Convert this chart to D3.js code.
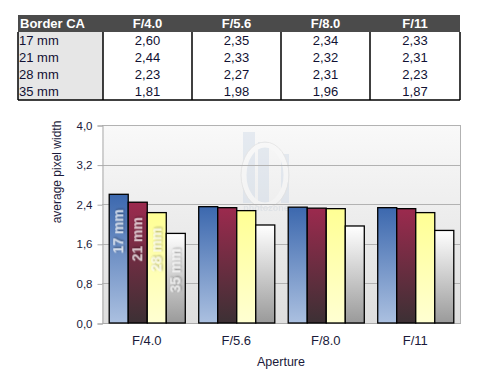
<!DOCTYPE html>
<html>
<head>
<meta charset="utf-8">
<script src="https://cdn.jsdelivr.net/npm/d3@7"></script>
<style>
  body { margin: 0; background: #fff; }
  text { font-family: "Liberation Sans", Arial, sans-serif; }
</style>
</head>
<body>
<div id="chart"></div>
<script>
const apertures = ["F/4.0", "F/5.6", "F/8.0", "F/11"];
const focals = ["17 mm", "21 mm", "28 mm", "35 mm"];
const values17 = [2.60, 2.35, 2.34, 2.33];
const values21 = [2.44, 2.33, 2.32, 2.31];
const values28 = [2.23, 2.27, 2.31, 2.23];
const values35 = [1.81, 1.98, 1.96, 1.87];
const yTicks = [0, 0.8, 1.6, 2.4, 3.2, 4.0];

const series = [values17, values21, values28, values35];
const fmt = v => d3.format(".2f")(v).replace(".", ",");
const fmt1 = v => d3.format(".1f")(v).replace(".", ",");

const W = 494, H = 372;
const svg = d3.select("#chart").append("svg")
  .attr("width", W).attr("height", H);

const defs = svg.append("defs");
const grads = [
  ["g17", "#3c68ae", "#abc0e0"],
  ["g21", "#9c2a4e", "#3c3034"],
  ["g28", "#ffff94", "#ffffd2"],
  ["g35", "#ffffff", "#9a9a9a"],
  ["gbg", "#f9f9f9", "#dedede"]
];
grads.forEach(([id, c0, c1]) => {
  const g = defs.append("linearGradient").attr("id", id)
    .attr("x1", 0).attr("y1", 0).attr("x2", 0).attr("y2", 1);
  g.append("stop").attr("offset", "0%").attr("stop-color", c0);
  g.append("stop").attr("offset", "100%").attr("stop-color", c1);
});
const shadow = defs.append("filter").attr("id", "shadow")
  .attr("x", "-30%").attr("y", "-30%").attr("width", "160%").attr("height", "160%");
shadow.append("feDropShadow").attr("dx", 1).attr("dy", 1)
  .attr("stdDeviation", 1).attr("flood-color", "#000").attr("flood-opacity", 0.6);

// ---- table ----
const tx = d3.scaleOrdinal().domain(["label", ...apertures])
  .range([18, 103, 192, 281, 370]);
const colW = [85, 89, 89, 89, 90];
const headerTop = 15, headerH = 17;
const ty = d3.scaleBand().domain(focals).range([32, 100]);

const table = svg.append("g");
table.append("rect").attr("x", 18).attr("y", headerTop)
  .attr("width", 442).attr("height", headerH).attr("fill", "#4b4b4b");
table.append("rect").attr("x", 18).attr("y", 32)
  .attr("width", 85).attr("height", 68).attr("fill", "#e6e6e6");
table.append("text").attr("x", 20).attr("y", headerTop + 13)
  .attr("fill", "#fff").attr("font-weight", "bold").attr("font-size", 13)
  .text("Border CA");
table.selectAll(".hdr").data(apertures).enter().append("text")
  .attr("x", (d, i) => tx(d) + colW[i + 1] / 2)
  .attr("y", headerTop + 13)
  .attr("text-anchor", "middle")
  .attr("fill", "#fff").attr("font-weight", "bold").attr("font-size", 13)
  .text(d => d);
table.selectAll(".rowlab").data(focals).enter().append("text")
  .attr("x", 19).attr("y", d => ty(d) + 13)
  .attr("fill", "#111133").attr("font-size", 13)
  .text(d => d);
series.forEach((vals, r) => {
  table.selectAll(".cell" + r).data(vals).enter().append("text")
    .attr("x", (d, i) => tx(apertures[i]) + colW[i + 1] / 2)
    .attr("y", ty(focals[r]) + 13)
    .attr("text-anchor", "middle")
    .attr("fill", "#111133").attr("font-size", 13)
    .text(d => fmt(d));
});
// borders
table.selectAll(".vline").data([18, 103, 192, 281, 370, 460]).enter().append("line")
  .attr("x1", d => d).attr("x2", d => d)
  .attr("y1", 32).attr("y2", 100)
  .attr("stroke", "#000").attr("stroke-width", 1.5);
table.append("line").attr("x1", 18).attr("x2", 460)
  .attr("y1", 100).attr("y2", 100)
  .attr("stroke", "#000").attr("stroke-width", 1.5);

// ---- chart ----
const plot = { left: 102, right: 460, top: 125, bottom: 323 };
const x = d3.scaleBand().domain(apertures).range([plot.left, plot.right]).paddingInner(0.15).paddingOuter(0.075);
const xs = d3.scaleBand().domain(focals).range([0, x.bandwidth()]);
const y = d3.scaleLinear().domain([0, 4]).range([plot.bottom, plot.top]);

svg.append("rect").attr("x", plot.left).attr("y", plot.top)
  .attr("width", plot.right - plot.left).attr("height", plot.bottom - plot.top)
  .attr("fill", "url(#gbg)");

// watermark
const wm = svg.append("g").attr("opacity", 0.4);
wm.append("rect").attr("x", 243).attr("y", 132).attr("width", 12).attr("height", 71).attr("fill", "#c9d6e6");
wm.append("rect").attr("x", 258).attr("y", 142).attr("width", 11).attr("height", 61).attr("fill", "#c9d6e6");
wm.append("rect").attr("x", 281).attr("y", 154).attr("width", 8).attr("height", 49).attr("fill", "#c9d6e6");
wm.append("ellipse").attr("cx", 265).attr("cy", 175).attr("rx", 21).attr("ry", 30)
  .attr("fill", "none").attr("stroke", "#fafafa").attr("stroke-width", 5);
wm.append("ellipse").attr("cx", 265).attr("cy", 175).attr("rx", 24).attr("ry", 33)
  .attr("fill", "none").attr("stroke", "#d0d0d0").attr("stroke-width", 1);
wm.append("text").attr("x", 266).attr("y", 211).attr("text-anchor", "middle")
  .attr("font-size", 9).attr("font-weight", "bold").attr("fill", "#c9d2dc").text("photozone");

// grid
svg.append("g").selectAll("line").data(yTicks.slice(1)).enter().append("line")
  .attr("x1", plot.left).attr("x2", plot.right)
  .attr("y1", d => Math.round(y(d)) + 0.5).attr("y2", d => Math.round(y(d)) + 0.5)
  .attr("stroke", "#b2b2b2");
svg.append("line").attr("x1", plot.right + 0.5).attr("x2", plot.right + 0.5)
  .attr("y1", plot.top).attr("y2", plot.bottom).attr("stroke", "#b2b2b2");

const yAxis = svg.append("g").attr("transform", `translate(${plot.left + 0.5},0.5)`)
  .call(d3.axisLeft(y).tickValues(yTicks).tickFormat(fmt1).tickSize(5).tickPadding(5));
yAxis.select(".domain").attr("stroke", "#aaa");
yAxis.selectAll(".tick line").attr("stroke", "#aaa");
yAxis.selectAll("text").attr("font-size", 11.5).attr("fill", "#1a1a3a")
  .attr("font-family", "Liberation Sans, Arial, sans-serif");

svg.append("line").attr("x1", plot.left).attr("x2", plot.right + 1)
  .attr("y1", plot.bottom + 0.5).attr("y2", plot.bottom + 0.5).attr("stroke", "#aaa");

// bars
const grads4 = ["g17", "g21", "g28", "g35"];
const groups = svg.append("g").selectAll("g").data(apertures).enter().append("g")
  .attr("transform", d => `translate(${x(d)},0)`);
focals.forEach((f, s) => {
  groups.append("rect")
    .attr("x", xs(f) + 0.5)
    .attr("y", (d, i) => y(series[s][i]))
    .attr("width", xs.bandwidth())
    .attr("height", (d, i) => plot.bottom - y(series[s][i]))
    .attr("fill", `url(#${grads4[s]})`)
    .attr("stroke", "#000").attr("stroke-width", 1.3);
});

// series labels inside first group
svg.append("g").selectAll("text").data(focals).enter().append("text")
  .attr("transform", (d, s) => {
    const cx = x(apertures[0]) + xs(d) + xs.bandwidth() / 2 + 5;
    const cy = y(series[s][0]) + 15;
    return `translate(${cx},${cy}) rotate(-90)`;
  })
  .attr("text-anchor", "end")
  .attr("font-size", 14).attr("font-weight", "bold")
  .attr("fill", "#fff").attr("fill-opacity", 0.7)
  .attr("filter", "url(#shadow)")
  .text(d => d);

// x labels
svg.append("g").selectAll("text").data(apertures).enter().append("text")
  .attr("x", d => x(d) + x.bandwidth() / 2)
  .attr("y", 345)
  .attr("text-anchor", "middle")
  .attr("font-size", 13).attr("fill", "#1a1a3a")
  .text(d => d);

svg.append("text").attr("x", 281).attr("y", 366).attr("text-anchor", "middle")
  .attr("font-size", 12.5).attr("fill", "#1a1a3a").text("Aperture");

svg.append("text").attr("transform", "translate(61,172) rotate(-90)")
  .attr("text-anchor", "middle")
  .attr("font-size", 12).attr("fill", "#1a1a3a").text("average pixel width");
</script>
</body>
</html>
